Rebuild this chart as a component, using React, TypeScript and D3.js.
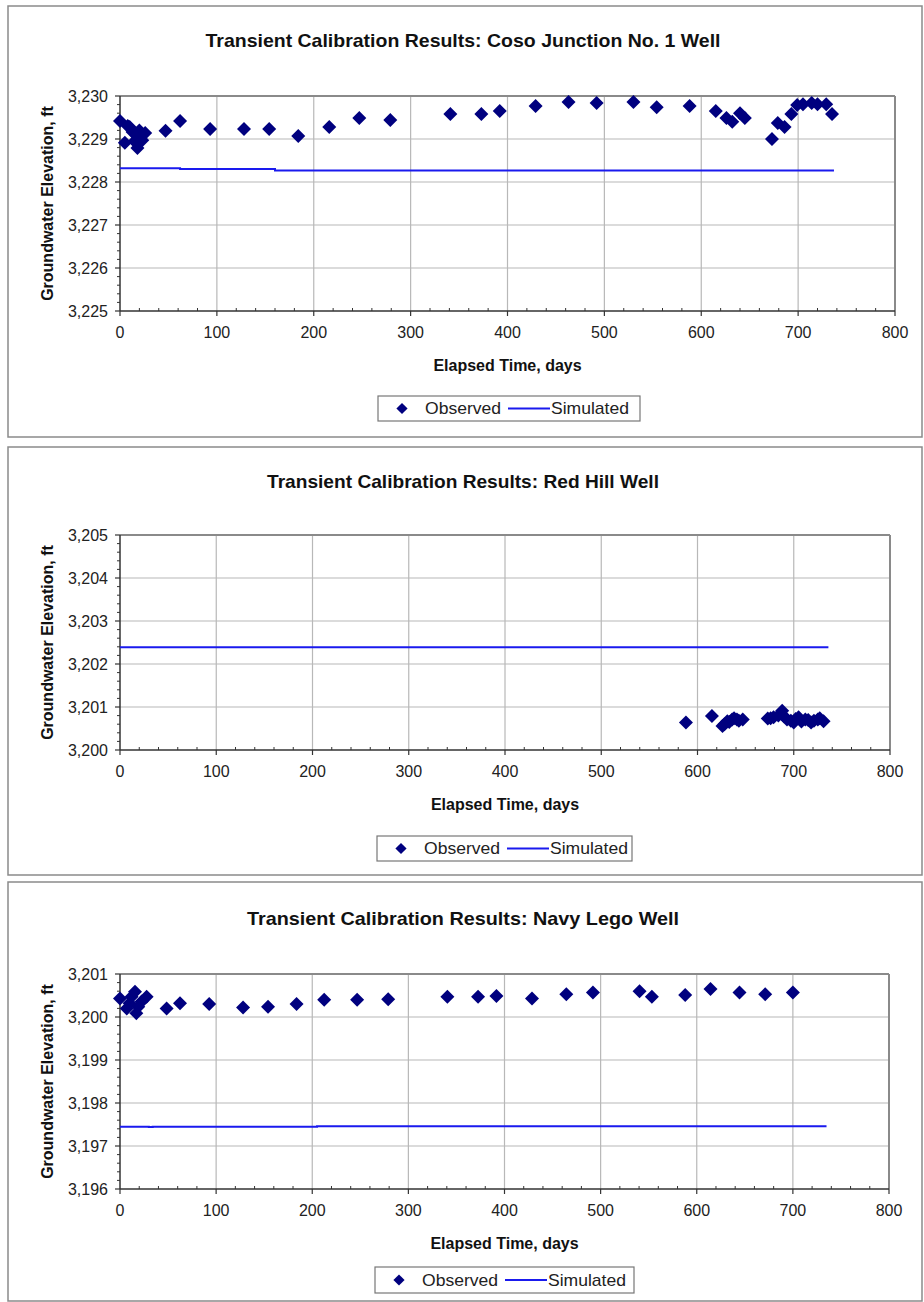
import * as React from 'react';
import * as d3 from 'd3';

// x axis ticks shared by all three charts (elapsed time, days)
const xTickValues = [0, 100, 200, 300, 400, 500, 600, 700, 800];

// Coso Junction No. 1 Well
const cosoObsDays = [0, 5, 8, 10, 13, 15, 17, 18, 20, 23, 26, 47, 62, 93, 128, 154, 184, 216, 247, 279, 341, 373, 392, 429, 463, 492, 530, 554, 588, 615, 626, 632, 640, 645, 673, 679, 686, 693, 699, 705, 714, 720, 729, 735];
const cosoObsElev = [3229.42, 3228.91, 3229.3, 3229.28, 3229.16, 3228.95, 3229.09, 3228.79, 3229.2, 3228.97, 3229.14, 3229.19, 3229.42, 3229.23, 3229.23, 3229.23, 3229.07, 3229.28, 3229.49, 3229.44, 3229.58, 3229.58, 3229.65, 3229.77, 3229.86, 3229.84, 3229.86, 3229.74, 3229.77, 3229.65, 3229.49, 3229.4, 3229.6, 3229.49, 3229.0, 3229.37, 3229.28, 3229.58, 3229.79, 3229.81, 3229.84, 3229.81, 3229.81, 3229.58];
const cosoSimDays = [0, 62, 160, 737];
const cosoSimElev = [3228.32, 3228.3, 3228.27, 3228.27];

// Red Hill Well
const redObsDays = [588, 615, 626, 628, 631, 633, 636, 638, 641, 643, 647, 673, 676, 679, 684, 688, 690, 693, 697, 700, 702, 705, 708, 712, 715, 718, 721, 725, 727, 731];
const redObsElev = [3200.64, 3200.79, 3200.56, 3200.6, 3200.67, 3200.65, 3200.71, 3200.74, 3200.71, 3200.68, 3200.71, 3200.73, 3200.74, 3200.76, 3200.8, 3200.91, 3200.78, 3200.71, 3200.68, 3200.64, 3200.72, 3200.76, 3200.66, 3200.71, 3200.7, 3200.64, 3200.68, 3200.71, 3200.74, 3200.67];
const redSimDays = [0, 736];
const redSimElev = [3202.39, 3202.39];

// Navy Lego Well
const navyObsDays = [0, 7, 10, 12, 15.6, 17, 19, 22.5, 27.7, 48.5, 62.4, 92.8, 128, 154, 183.7, 212.4, 246.7, 279, 340.6, 372.5, 391.6, 428.6, 464.3, 492, 540.5, 553.3, 588, 614.3, 644.5, 671.2, 700];
const navyObsElev = [3200.43, 3200.2, 3200.32, 3200.47, 3200.59, 3200.09, 3200.24, 3200.36, 3200.47, 3200.2, 3200.32, 3200.3, 3200.22, 3200.24, 3200.3, 3200.4, 3200.4, 3200.41, 3200.47, 3200.47, 3200.49, 3200.43, 3200.53, 3200.57, 3200.6, 3200.47, 3200.51, 3200.65, 3200.57, 3200.53, 3200.57];
const navySimDays = [0, 30, 34, 205, 735];
const navySimElev = [3197.45, 3197.44, 3197.45, 3197.46, 3197.46];

const charts = [
  {
    title: 'Transient Calibration Results: Coso Junction No. 1 Well',
    obsDays: cosoObsDays, obsElev: cosoObsElev, simDays: cosoSimDays, simElev: cosoSimElev,
    yDomain: [3225, 3230],
    panel: [8, 6, 922, 437], titleY: 40, titleW: 515,
    top: 96, bottom: 311, right: 895,
    legend: [378, 396, 262, 25],
  },
  {
    title: 'Transient Calibration Results: Red Hill Well',
    obsDays: redObsDays, obsElev: redObsElev, simDays: redSimDays, simElev: redSimElev,
    yDomain: [3200, 3205],
    panel: [8, 447, 922, 875], titleY: 481, titleW: 392,
    top: 535, bottom: 750, right: 890,
    legend: [377, 836, 255, 25],
  },
  {
    title: 'Transient Calibration Results: Navy Lego Well',
    obsDays: navyObsDays, obsElev: navyObsElev, simDays: navySimDays, simElev: navySimElev,
    yDomain: [3196, 3201],
    panel: [8, 882, 922, 1301], titleY: 918, titleW: 432,
    top: 974, bottom: 1189, right: 889,
    legend: [375, 1267, 259, 26],
  },
];

const FONT = '"Liberation Sans", Arial, sans-serif';
const diamond = 'M0,-7L7,0L0,7L-7,0Z';
const fmt = d3.format(',');

const Chart = ({ c }: { c: any }) => {
  const x = d3.scaleLinear().domain([0, 800]).range([120, c.right]);
  const y = d3.scaleLinear().domain(c.yDomain).range([c.bottom, c.top]);
  const yTicks = d3.range(c.yDomain[0], c.yDomain[1] + 0.5, 1);
  const xMinor = d3.range(0, 801, 20).filter((v) => v % 100 !== 0);
  const yMinor = d3.range(1, 25).filter((i) => i % 5 !== 0).map((i) => c.yDomain[0] + i * 0.2);
  const sim = c.simDays.map((d: number, i: number) => [d, c.simElev[i]] as [number, number]);
  const line = d3.line<[number, number]>().x((d) => x(d[0])).y((d) => y(d[1])).curve(d3.curveStepAfter);
  const [px0, py0, px1, py1] = c.panel;
  const [lx, ly, lw, lh] = c.legend;
  const cx = (120 + c.right) / 2;

  return (
    <g>
      <rect x={px0} y={py0} width={px1 - px0} height={py1 - py0} fill="#fff" stroke="#8a8a8a" strokeWidth={1.5} />
      <text x={463} y={c.titleY} textAnchor="middle" dominantBaseline="central" fontFamily={FONT}
        fontWeight="bold" fontSize={19} textLength={c.titleW} lengthAdjust="spacingAndGlyphs" fill="#111">
        {c.title}
      </text>

      {/* grid */}
      {xTickValues.slice(1).map((t) => (
        <line key={'gx' + t} x1={x(t)} x2={x(t)} y1={c.top} y2={c.bottom} stroke="#b8b8b8" strokeWidth={1.2} />
      ))}
      {yTicks.slice(1).map((t) => (
        <line key={'gy' + t} x1={120} x2={c.right} y1={y(t)} y2={y(t)} stroke="#b8b8b8" strokeWidth={1.2} />
      ))}
      <line x1={120} x2={c.right} y1={c.top} y2={c.top} stroke="#8a8a8a" strokeWidth={2} />
      <line x1={c.right} x2={c.right} y1={c.top} y2={c.bottom} stroke="#8a8a8a" strokeWidth={2} />

      {/* axes */}
      <line x1={120} x2={120} y1={c.top} y2={c.bottom} stroke="#333" strokeWidth={1.5} />
      <line x1={120} x2={c.right} y1={c.bottom} y2={c.bottom} stroke="#333" strokeWidth={1.5} />
      {xTickValues.map((t) => (
        <g key={'xt' + t}>
          <line x1={x(t)} x2={x(t)} y1={c.bottom} y2={c.bottom + 5} stroke="#333" strokeWidth={1.2} />
          <text x={x(t)} y={c.bottom + 21} textAnchor="middle" dominantBaseline="central" fontFamily={FONT} fontSize={16} fill="#222">
            {t}
          </text>
        </g>
      ))}
      {xMinor.map((t) => (
        <line key={'xm' + t} x1={x(t)} x2={x(t)} y1={c.bottom - 3} y2={c.bottom} stroke="#333" strokeWidth={1} />
      ))}
      {yTicks.map((t) => (
        <g key={'yt' + t}>
          <line x1={115} x2={120} y1={y(t)} y2={y(t)} stroke="#333" strokeWidth={1.2} />
          <text x={108} y={y(t)} textAnchor="end" dominantBaseline="central" fontFamily={FONT} fontSize={16} fill="#222">
            {fmt(t)}
          </text>
        </g>
      ))}
      {yMinor.map((t) => (
        <line key={'ym' + t} x1={117} x2={120} y1={y(t)} y2={y(t)} stroke="#333" strokeWidth={1} />
      ))}

      <text x={cx} y={c.bottom + 54} textAnchor="middle" dominantBaseline="central" fontFamily={FONT}
        fontWeight="bold" fontSize={16} fill="#111">
        Elapsed Time, days
      </text>
      <text transform={`translate(47,${(c.top + c.bottom) / 2}) rotate(-90)`} textAnchor="middle"
        dominantBaseline="central" fontFamily={FONT} fontWeight="bold" fontSize={16} fill="#111">
        Groundwater Elevation, ft
      </text>

      {/* simulated */}
      <path d={line(sim) || ''} fill="none" stroke="#1a1aee" strokeWidth={2} />
      {/* observed */}
      {c.obsDays.map((d: number, i: number) => (
        <path key={'o' + i} d={diamond} transform={`translate(${x(d)},${y(c.obsElev[i])})`} fill="#00007f" />
      ))}

      {/* legend */}
      <rect x={lx} y={ly} width={lw} height={lh} fill="#fff" stroke="#777" strokeWidth={1.2} />
      <path d={diamond} transform={`translate(${lx + 24},${ly + lh / 2}) scale(0.8)`} fill="#00007f" />
      <text x={lx + 47} y={ly + lh / 2} dominantBaseline="central" fontFamily={FONT} fontSize={17}
        textLength={76} lengthAdjust="spacingAndGlyphs" fill="#222">
        Observed
      </text>
      <line x1={lx + 130} x2={lx + 172} y1={ly + lh / 2} y2={ly + lh / 2} stroke="#1a1aee" strokeWidth={2} />
      <text x={lx + 173} y={ly + lh / 2} dominantBaseline="central" fontFamily={FONT} fontSize={17}
        textLength={78} lengthAdjust="spacingAndGlyphs" fill="#222">
        Simulated
      </text>
    </g>
  );
};

const App: React.FC = () => (
  <svg width={924} height={1302} style={{ position: 'absolute', left: 0, top: 0, background: '#fff' }}>
    {charts.map((c, i) => (
      <Chart key={i} c={c} />
    ))}
  </svg>
);

export default App;
